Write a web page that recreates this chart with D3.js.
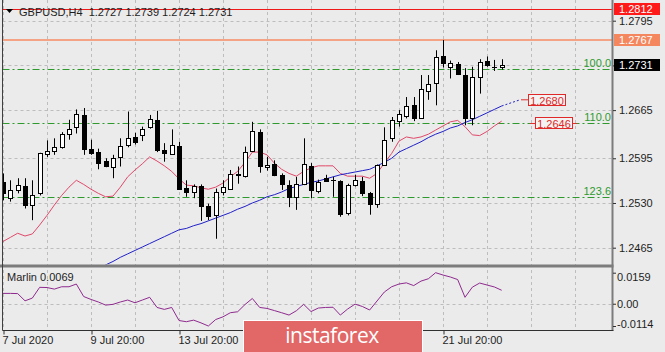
<!DOCTYPE html>
<html><head><meta charset="utf-8">
<script src="https://cdn.jsdelivr.net/npm/d3@7"></script>
<style>html,body{margin:0;padding:0;background:#ebebeb;}svg{display:block;font-family:"Liberation Sans",Arial,sans-serif;}</style>
</head><body><div id="chart"></div>
<script>
// ---------- DATA ----------
const symbolTitle = "GBPUSD,H4";
const headerOHLC = ["1.2727", "1.2739", "1.2724", "1.2731"];
const openP  = [1.2561,1.2537,1.2549,1.2554,1.2527,1.2544,1.2601,1.2606,1.2612,1.2630,
                1.2640,1.2658,1.2609,1.2604,1.2591,1.2583,1.2597,1.2614,1.2626,1.2629,
                1.2640,1.2651,1.2607,1.2601,1.2613,1.2552,1.2546,1.2554,1.2525,1.2512,
                1.2546,1.2550,1.2571,1.2569,1.2605,1.2633,1.2582,1.2586,1.2570,1.2556,
                1.2539,1.2557,1.2584,1.2548,1.2567,1.2564,1.2562,1.2515,1.2556,1.2562,
                1.2544,1.2528,1.2585,1.2624,1.2649,1.2656,1.2672,1.2653,1.2693,1.2704,
                1.2744,1.2727,1.2732,1.2716,1.2653,1.2713,1.2736,1.2728,1.2727];
const highP  = [1.2573,1.2563,1.2566,1.2566,1.2563,1.2603,1.2621,1.2624,1.2633,1.2651,
                1.2666,1.2668,1.2622,1.2609,1.2595,1.2600,1.2624,1.2663,1.2632,1.2641,
                1.2658,1.2664,1.2617,1.2637,1.2619,1.2563,1.2557,1.2557,1.2529,1.2551,
                1.2563,1.2578,1.2583,1.2612,1.2648,1.2637,1.2597,1.2592,1.2573,1.2563,
                1.2568,1.2624,1.2588,1.2564,1.2571,1.2568,1.2563,1.2558,1.2571,1.2568,
                1.2546,1.2586,1.2640,1.2655,1.2665,1.2684,1.2684,1.2716,1.2716,1.2752,
                1.2767,1.2737,1.2735,1.2726,1.2728,1.2739,1.2743,1.2738,1.2739];
const lowP   = [1.2534,1.2532,1.2544,1.2522,1.2505,1.2541,1.2597,1.2600,1.2609,1.2622,
                1.2631,1.2600,1.2600,1.2579,1.2582,1.2566,1.2583,1.2611,1.2615,1.2620,
                1.2638,1.2604,1.2590,1.2600,1.2549,1.2539,1.2537,1.2504,1.2505,1.2478,
                1.2541,1.2549,1.2558,1.2567,1.2604,1.2574,1.2577,1.2569,1.2549,1.2524,
                1.2520,1.2556,1.2537,1.2544,1.2561,1.2539,1.2510,1.2512,1.2554,1.2540,
                1.2513,1.2523,1.2584,1.2619,1.2641,1.2653,1.2649,1.2653,1.2680,1.2672,
                1.2727,1.2711,1.2716,1.2643,1.2643,1.2689,1.2728,1.2722,1.2724];
const closeP = [1.2544,1.2549,1.2556,1.2527,1.2541,1.2602,1.2605,1.2611,1.2631,1.2638,
                1.2659,1.2608,1.2602,1.2588,1.2584,1.2596,1.2613,1.2625,1.2618,1.2638,
                1.2652,1.2607,1.2603,1.2614,1.2551,1.2546,1.2554,1.2525,1.2511,1.2546,
                1.2553,1.2572,1.2572,1.2604,1.2635,1.2584,1.2585,1.2570,1.2557,1.2539,
                1.2558,1.2586,1.2549,1.2561,1.2562,1.2564,1.2514,1.2556,1.2563,1.2545,
                1.2528,1.2585,1.2622,1.2651,1.2659,1.2671,1.2654,1.2695,1.2703,1.2742,
                1.2733,1.2733,1.2718,1.2654,1.2713,1.2735,1.2730,1.2727,1.2731];
const redMA  = [1.2474,1.2480,1.2486,1.2482,1.2485,1.2498,1.2512,1.2527,1.2541,1.2553,
                1.2563,1.2557,1.2550,1.2544,1.2539,1.2540,1.2553,1.2568,1.2578,1.2587,
                1.2597,1.2591,1.2584,1.2576,1.2565,1.2556,1.2555,1.2552,1.2550,1.2553,
                1.2559,1.2568,1.2576,1.2589,1.2604,1.2604,1.2600,1.2588,1.2579,1.2573,
                1.2569,1.2576,1.2581,1.2584,1.2584,1.2584,1.2573,1.2569,1.2569,1.2569,
                1.2566,1.2573,1.2588,1.2602,1.2620,1.2626,1.2624,1.2626,1.2630,1.2636,
                1.2642,1.2648,1.2650,1.2641,1.2629,1.2628,1.2634,1.2642,1.2649];
const blueStart = 13;
const blueMA = [1.2434,1.2440,1.2445,1.2451,1.2456,1.2461,1.2466,1.2471,1.2476,1.2481,
                1.2486,1.2491,1.2493,1.2497,1.2500,1.2504,1.2508,1.2512,1.2516,1.2521,
                1.2525,1.2530,1.2534,1.2539,1.2542,1.2546,1.2551,1.2554,1.2557,1.2560,
                1.2562,1.2565,1.2568,1.2571,1.2573,1.2575,1.2577,1.2579,1.2584,1.2589,
                1.2595,1.2604,1.2609,1.2614,1.2619,1.2625,1.2630,1.2634,1.2639,1.2642,
                1.2647,1.2651,1.2656,1.2661,1.2666,1.2671];
const blueProjBars = [68, 70.5];
const blueProjVals = [1.2671, 1.2680];
const marlin = [0.0053,0.0053,0.0052,0.0015,0.0029,0.0084,0.0083,0.0075,0.0087,0.0087,
                0.0101,0.0037,0.0022,0.0009,-0.0007,-0.0003,0.0009,0.0019,0.0005,0.0019,
                0.0033,-0.0019,-0.0029,-0.0019,-0.0086,-0.0092,-0.0084,-0.0098,-0.0114,-0.0081,
                -0.0067,-0.0046,-0.0041,-0.0004,0.0027,-0.0019,-0.0024,-0.0035,-0.0046,-0.0058,
                -0.0036,-0.0003,-0.0040,-0.0022,-0.0019,-0.0018,-0.0058,-0.0027,-0.0002,-0.0014,
                -0.0032,0.0014,0.0060,0.0087,0.0101,0.0107,0.0093,0.0116,0.0128,0.0159,
                0.0147,0.0137,0.0124,0.0033,0.0085,0.0106,0.0096,0.0086,0.0069];
const marlinLabel = "Marlin 0.0069";
const priceTicks = [1.2795, 1.2730, 1.2665, 1.2595, 1.2530, 1.2465];
const marlinTicks = [0.0159, 0, -0.0114];
const marlinTickLabels = ["0.0159", "0.00", "-0.0114"];
const dateTickBars = [0, 12, 24, 60];
const dateTickLabels = ["7 Jul 2020", "9 Jul 20:00", "13 Jul 20:00", "21 Jul 20:00"];
const fibLevels = [1.2725, 1.2646, 1.2539];
const fibLabels = ["100.0", "110.0", "123.6"];
const hLineRed = 1.2812, hLineOrange = 1.2767, lastPrice = 1.2731;
const lineLabelBlue = 1.2680, lineLabelRed = 1.2646;
const logoText = "instaforex";

// ---------- LAYOUT ----------
const W = 665, H = 352;
const plotL = 2.5, plotR = 612.5, mainBot = 264.5, indTop = 267.5, indBot = 330.5;
const x = d3.scaleLinear().domain([0, 6]).range([3, 47]);
const y = d3.scaleLinear().domain([1.2465, 1.2795]).range([247.7, 20.7]);
const yi = d3.scaleLinear().domain([-0.0114, 0.0159]).range([326, 272.7]);
const fmt4 = d3.format(".4f");
const txt = "#1e1e1e";

const svg = d3.select("#chart").append("svg").attr("width", W).attr("height", H);
svg.append("rect").attr("width", W).attr("height", H).attr("fill", "#ebebeb");

const defs = svg.append("defs");
defs.append("clipPath").attr("id", "cm").append("rect")
  .attr("x", plotL).attr("y", 0).attr("width", plotR - plotL).attr("height", mainBot);
defs.append("clipPath").attr("id", "ci").append("rect")
  .attr("x", plotL).attr("y", indTop + 1).attr("width", plotR - plotL).attr("height", indBot - indTop - 1);

// grid
const gridC = "#bdbdbd";
const vGrid = d3.range(0, 200, 6).filter(i => x(i) < plotR - 1);
svg.append("g").selectAll("line").data(vGrid).join("line")
  .attr("x1", i => Math.round(x(i)) + 0.5).attr("x2", i => Math.round(x(i)) + 0.5)
  .attr("y1", 0).attr("y2", indBot)
  .attr("stroke", gridC).attr("stroke-dasharray", "3,3");
svg.append("g").selectAll("line").data(priceTicks).join("line")
  .attr("x1", plotL).attr("x2", plotR)
  .attr("y1", d => Math.round(y(d)) + 0.5).attr("y2", d => Math.round(y(d)) + 0.5)
  .attr("stroke", gridC).attr("stroke-dasharray", "3,3");
svg.append("line").attr("x1", plotL).attr("x2", plotR)
  .attr("y1", Math.round(yi(0)) + 0.5).attr("y2", Math.round(yi(0)) + 0.5)
  .attr("stroke", gridC).attr("stroke-dasharray", "3,3");

const main = svg.append("g").attr("clip-path", "url(#cm)");

// horizontal lines
main.append("line").attr("x1", plotL).attr("x2", plotR)
  .attr("y1", Math.round(y(hLineRed)) + 0.5).attr("y2", Math.round(y(hLineRed)) + 0.5)
  .attr("stroke", "#f01818").attr("stroke-width", 1);
main.append("line").attr("x1", plotL).attr("x2", plotR)
  .attr("y1", y(hLineOrange)).attr("y2", y(hLineOrange))
  .attr("stroke", "#f4a384").attr("stroke-width", 2);

// fib levels
main.append("g").selectAll("line").data(fibLevels).join("line")
  .attr("x1", plotL).attr("x2", plotR)
  .attr("y1", d => Math.round(y(d)) + 0.5).attr("y2", d => Math.round(y(d)) + 0.5)
  .attr("stroke", "#2e9a2e").attr("stroke-dasharray", "7,3,2,3");
main.append("g").selectAll("text").data(fibLevels).join("text")
  .attr("x", 611).attr("y", d => Math.round(y(d)) - 2)
  .attr("text-anchor", "end").attr("font-size", 11).attr("fill", "#2e9a2e")
  .text((d, i) => fibLabels[i]);

// red horizontal segment for 1.2646 label
main.append("line").attr("x1", 530).attr("x2", 577)
  .attr("y1", Math.round(y(lineLabelRed)) + 0.5).attr("y2", Math.round(y(lineLabelRed)) + 0.5)
  .attr("stroke", "#e03030");

// MAs
const redLine = d3.line().x((d, i) => x(i)).y(d => y(d));
main.append("path").attr("d", redLine(redMA)).attr("fill", "none")
  .attr("stroke", "#e0486a").attr("stroke-width", 1);
const blueLine = d3.line().x((d, i) => x(i + blueStart)).y(d => y(d));
main.append("path").attr("d", blueLine(blueMA)).attr("fill", "none")
  .attr("stroke", "#2020c8").attr("stroke-width", 1);
main.append("path")
  .attr("d", d3.line().x((d, i) => x(blueProjBars[i])).y(d => y(d))(blueProjVals))
  .attr("fill", "none").attr("stroke", "#2020c8").attr("stroke-dasharray", "2,2");
main.append("line").attr("x1", x(blueProjBars[1]) + 1).attr("x2", 529)
  .attr("y1", y(lineLabelBlue)).attr("y2", y(lineLabelBlue)).attr("stroke", "#e03030");

// candles
const idx = d3.range(openP.length);
const cg = main.append("g");
idx.forEach(i => {
  const cx = Math.round(x(i));
  cg.append("line").attr("x1", cx + 0.5).attr("x2", cx + 0.5)
    .attr("y1", y(highP[i])).attr("y2", y(lowP[i])).attr("stroke", "#000");
  const top = Math.round(y(Math.max(openP[i], closeP[i])));
  const bot = Math.round(y(Math.min(openP[i], closeP[i])));
  const bull = closeP[i] >= openP[i];
  if (bot - top < 1) {
    cg.append("line").attr("x1", cx - 2).attr("x2", cx + 3)
      .attr("y1", top + 0.5).attr("y2", top + 0.5).attr("stroke", "#000");
  } else {
    cg.append("rect").attr("x", cx - 1.5).attr("y", top + 0.5)
      .attr("width", 4).attr("height", bot - top)
      .attr("fill", bull ? "#fff" : "#000").attr("stroke", "#000");
  }
});

// label boxes in chart
function lineBox(val, x0, w, col) {
  const yy = Math.round(y(val));
  svg.append("rect").attr("x", x0 + 0.5).attr("y", yy - 5.5).attr("width", w).attr("height", 11)
    .attr("fill", "#f2f2f2").attr("stroke", col);
  svg.append("text").attr("x", x0 + w / 2 + 0.5).attr("y", yy + 4.5).attr("text-anchor", "middle")
    .attr("font-size", 11).attr("fill", col).text(fmt4(val));
}
lineBox(lineLabelBlue, 528, 37, "#e02828");
lineBox(lineLabelRed, 535, 37, "#e02828");

// indicator
const ind = svg.append("g").attr("clip-path", "url(#ci)");
ind.append("path").attr("d", d3.line().x((d, i) => x(i)).y(d => yi(d))(marlin))
  .attr("fill", "none").attr("stroke", "#8e2a8e").attr("stroke-width", 1);
svg.append("text").attr("x", 7).attr("y", 281).attr("font-size", 11).attr("fill", txt).text(marlinLabel);

// separators & borders
svg.append("rect").attr("x", 0).attr("y", 264.5).attr("width", plotR + 1).attr("height", 3).attr("fill", "#7c7c7c");
svg.append("line").attr("x1", plotL).attr("x2", plotL).attr("y1", 0).attr("y2", indBot).attr("stroke", "#404040");
svg.append("line").attr("x1", plotR).attr("x2", plotR).attr("y1", 0).attr("y2", indBot).attr("stroke", "#7c7c7c").attr("stroke-width", 2);
svg.append("line").attr("x1", plotL).attr("x2", plotR + 1).attr("y1", indBot).attr("y2", indBot).attr("stroke", "#303030");

// right price axis
const ax = svg.append("g").attr("transform", `translate(${plotR + 0.5},0)`)
  .call(d3.axisRight(y).tickValues(priceTicks).tickFormat(fmt4).tickSize(3).tickPadding(3));
ax.select(".domain").remove();
ax.selectAll("text").attr("font-size", 11).attr("fill", txt).attr("font-family", "Liberation Sans, Arial, sans-serif");
ax.selectAll("line").attr("stroke", "#303030");

const axi = svg.append("g").attr("transform", `translate(${plotR + 0.5},0)`)
  .call(d3.axisRight(yi).tickValues(marlinTicks).tickFormat((d, i) => marlinTickLabels[i]).tickSize(3).tickPadding(1));
axi.select(".domain").remove();
axi.selectAll("text").attr("font-size", 11).attr("fill", txt).attr("font-family", "Liberation Sans, Arial, sans-serif");
axi.selectAll("line").attr("stroke", "#303030");
axi.selectAll(".tick").filter(d => d === 0.0159).select("text").attr("dy", "0.7em");
axi.selectAll(".tick").filter(d => d === -0.0114).select("text").attr("dy", "0.1em");

// price boxes
function priceBox(val, fill, tcol) {
  const yy = Math.round(y(val));
  svg.append("rect").attr("x", 614).attr("y", yy - 6).attr("width", 46).attr("height", 12).attr("fill", fill);
  svg.append("text").attr("x", 619).attr("y", yy + 4).attr("font-size", 11).attr("fill", tcol).text(fmt4(val));
}
priceBox(hLineRed, "#ff1a1a", "#fff");
priceBox(hLineOrange, "#f5875f", "#fff");
priceBox(lastPrice, "#000", "#fff");

// bottom axis
const bx = svg.append("g").attr("transform", `translate(0,${indBot})`)
  .call(d3.axisBottom(x).tickValues(dateTickBars).tickFormat((d, i) => dateTickLabels[i]).tickSize(4).tickPadding(2));
bx.select(".domain").remove();
bx.selectAll("line").attr("stroke", "#303030").attr("transform", "translate(0.5,0)");
bx.selectAll("text").attr("text-anchor", "start").attr("x", -1).attr("font-size", 11).attr("fill", txt)
  .attr("font-family", "Liberation Sans, Arial, sans-serif");

// header
svg.append("path").attr("d", "M6,9 L13,9 L9.5,13 Z").attr("fill", "#000");
svg.append("text").attr("x", 19).attr("y", 16).attr("font-size", 11).attr("fill", txt)
  .attr("xml:space", "preserve")
  .text(symbolTitle + "  " + headerOHLC.join(" "));

// logo
svg.append("rect").attr("x", 243.5).attr("y", 320.5).attr("width", 179).attr("height", 40)
  .attr("fill", "#e26767").attr("stroke", "#fff");
svg.append("text").attr("x", 332).attr("y", 343).attr("text-anchor", "middle")
  .attr("font-size", 21).attr("fill", "#fff").attr("font-family", "Open Sans, sans-serif")
  .attr("letter-spacing", "-0.5").text(logoText);
</script></body></html>
